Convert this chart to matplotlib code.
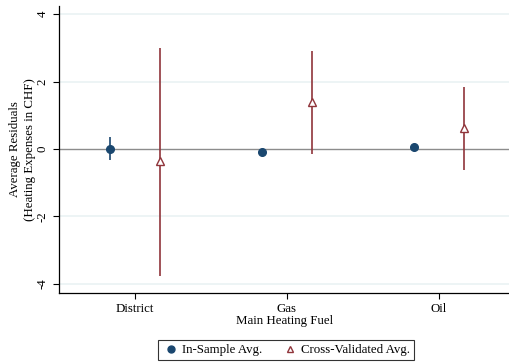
import numpy as np
import matplotlib.pyplot as plt
from matplotlib.lines import Line2D

# data
fuels = ['District', 'Gas', 'Oil']
insample_avg = [0.01, -0.08, 0.07]
insample_lo = [-0.33, -0.13, 0.02]
insample_hi = [0.36, -0.03, 0.12]
cv_avg = [-0.37, 1.40, 0.63]
cv_lo = [-3.78, -0.16, -0.62]
cv_hi = [3.00, 2.91, 1.83]
yticks = [-4, -2, 0, 2, 4]

navy = '#1a476f'
maroon = '#90353b'
plt.rcParams['font.family'] = ['Liberation Serif', 'DejaVu Serif']
fs = 9.3

fig = plt.figure(figsize=(5.1, 3.64), dpi=100)
ax = fig.add_axes([59/510, 71/364, 1 - 59/510, (293-6)/364])

x = np.arange(len(fuels))
off = 0.165

for yv in yticks:
    if yv != 0:
        ax.axhline(yv, color='#eaf2f3', lw=1.2, zorder=0)
ax.axhline(0, color='#8c8c8c', lw=1, zorder=1)

ax.vlines(x - off, insample_lo, insample_hi, color=navy, lw=1.2, zorder=2)
ax.plot(x - off, insample_avg, 'o', color=navy, ms=5.5, zorder=3)
ax.vlines(x + off, cv_lo, cv_hi, color=maroon, lw=1.2, zorder=2)
ax.plot(x + off, cv_avg, '^', mfc='white', mec=maroon, mew=1, ms=5.5, zorder=3)

ax.set_xlim(-0.5, 2.47)
ax.set_ylim(-4.27, 4.24)
ax.set_xticks(x)
ax.set_xticklabels(fuels, fontsize=fs)
ax.set_yticks(yticks)
ax.set_yticklabels([str(v) for v in yticks], rotation=90, va='center', fontsize=fs)
ax.tick_params(length=4, width=0.8, color='black')
ax.spines['top'].set_visible(False)
ax.spines['right'].set_visible(False)
ax.spines['left'].set_linewidth(0.9)
ax.spines['bottom'].set_linewidth(0.9)
ax.set_xlabel('Main Heating Fuel', fontsize=fs, labelpad=0)
ax.set_ylabel('Average Residuals\n(Heating Expenses in CHF)', fontsize=fs, linespacing=1.35)
ax.yaxis.set_label_coords(-0.05, 0.5)

handles = [Line2D([], [], marker='o', ls='', color=navy, ms=5),
           Line2D([], [], marker='^', ls='', mfc='white', mec=maroon, ms=5)]
leg = fig.legend(handles, ['In-Sample Avg.', 'Cross-Validated Avg.'], ncol=2,
                 loc='center', bbox_to_anchor=(286/510, 1 - 350/364), fontsize=fs,
                 frameon=True, fancybox=False, edgecolor='black', handletextpad=0.2,
                 columnspacing=1.5, borderpad=0.3, handlelength=1.3)
leg.get_frame().set_linewidth(0.8)

fig.savefig('out.png', dpi=100)
